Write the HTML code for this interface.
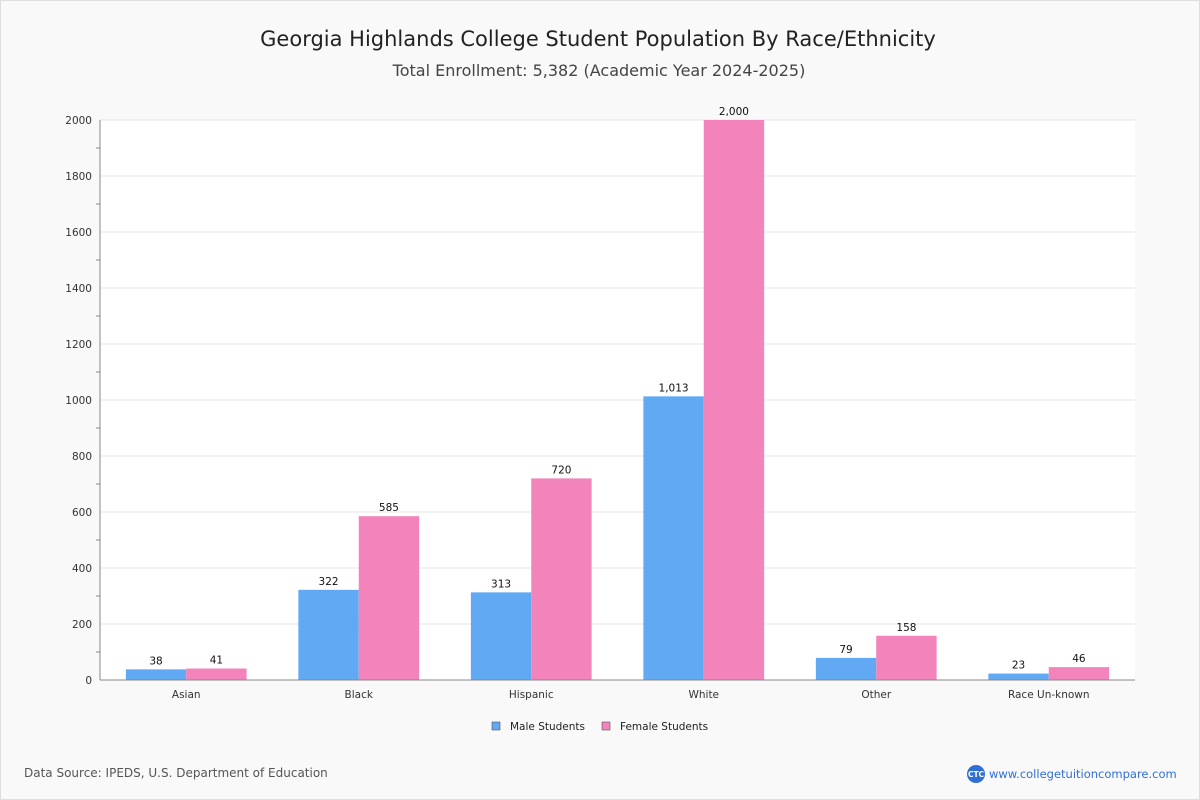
<!DOCTYPE html>
<html><head><meta charset="utf-8">
<style>
html,body{margin:0;padding:0;background:#f9f9f9;}
body{width:1200px;height:800px;overflow:hidden;font-family:"DejaVu Sans","Liberation Sans",sans-serif;}
#frame{position:absolute;left:0;top:0;width:1198px;height:798px;border:1px solid #ddd;}
</style></head>
<body>
<div id="frame"></div>
<svg id="chart" width="1200" height="800" style="position:absolute;left:0;top:0">
<text x="598" y="46" text-anchor="middle" font-size="21" fill="#222">Georgia Highlands College Student Population By Race/Ethnicity</text>
<text x="599" y="76" text-anchor="middle" font-size="16" fill="#444">Total Enrollment: 5,382 (Academic Year 2024-2025)</text>
<rect x="100" y="120" width="1035" height="560" fill="#fff"/>
<g id="grid"></g><g id="bars"></g><g id="axes"></g>
<g>
<rect x="492" y="722" width="8" height="8" fill="#62a9f4" stroke="#555" stroke-width="0.6"/>
<text x="510" y="730" font-size="10.5" fill="#222">Male Students</text>
<rect x="602" y="722" width="8" height="8" fill="#f283bb" stroke="#555" stroke-width="0.6"/>
<text x="620" y="730" font-size="10.5" fill="#222">Female Students</text>
</g>
<text x="24" y="777" font-size="12" fill="#555">Data Source: IPEDS, U.S. Department of Education</text>
<g>
<circle cx="976" cy="774" r="9" fill="#2f6fd6"/>
<text x="976" y="777" text-anchor="middle" font-size="7.5" fill="#fff" font-weight="bold">CTC</text>
<text x="989" y="778" font-size="11.5" fill="#2f6fd6">www.collegetuitioncompare.com</text>
</g>
</svg>
<script>
const categories=["Asian","Black","Hispanic","White","Other","Race Un-known"];
const maleValues=[38,322,313,1013,79,23];
const femaleValues=[41,585,720,2000,158,46];
const yTicks=[0,200,400,600,800,1000,1200,1400,1600,1800,2000];
const NS="http://www.w3.org/2000/svg";
const X0=100,W=1035,Y0=680,H=560,YMAX=2000;
const y=v=>Y0-v/YMAX*H;
const band=W/categories.length;
const xc=i=>X0+band*(i+0.5);
function mk(t,a,p){const e=document.createElementNS(NS,t);for(const k in a)e.setAttribute(k,a[k]);p.appendChild(e);return e;}
const grid=document.getElementById('grid'),bars=document.getElementById('bars'),axes=document.getElementById('axes');
yTicks.forEach((t,i)=>{
 const gl=mk('line',{x1:X0,x2:X0+W,y1:y(t),y2:y(t),stroke:'#e4e4e4','stroke-width':1},grid);
 
 
 const lb=mk('text',{x:92,y:y(t)+4,'text-anchor':'end','font-size':10.5,fill:'#333'},axes);
 lb.textContent=t;
 
 
 if(i<yTicks.length-1){
  const m=(t+yTicks[i+1])/2;
  const tk=mk('line',{x1:96,x2:100,y1:y(m),y2:y(m),stroke:'#888'},axes);
  
  
 }
});
const bw=band*0.35;
categories.forEach((c,i)=>{
 [[maleValues[i],'#62a9f4',-1,'male'],[femaleValues[i],'#f283bb',0,'female']].forEach(([v,col,off,s])=>{
  const bx=xc(i)+off*bw;
  const r=mk('rect',{x:bx,y:y(v),width:bw,height:Y0-y(v),fill:col},bars);
  
  
  const t=mk('text',{x:bx+bw/2,y:y(v)-5,'text-anchor':'middle','font-size':10.5,fill:'#111'},bars);
  t.textContent=v.toLocaleString('en-US');
  
  
 });
 const xl=mk('text',{x:xc(i),y:698,'text-anchor':'middle','font-size':10.5,fill:'#333'},axes);
 xl.textContent=c;
 
 
});
const ya=mk('line',{x1:X0,x2:X0,y1:120,y2:Y0,stroke:'#888'},axes);


const xa=mk('line',{x1:X0,x2:X0+W,y1:Y0,y2:Y0,stroke:'#888'},axes);


</script>
</body></html>
